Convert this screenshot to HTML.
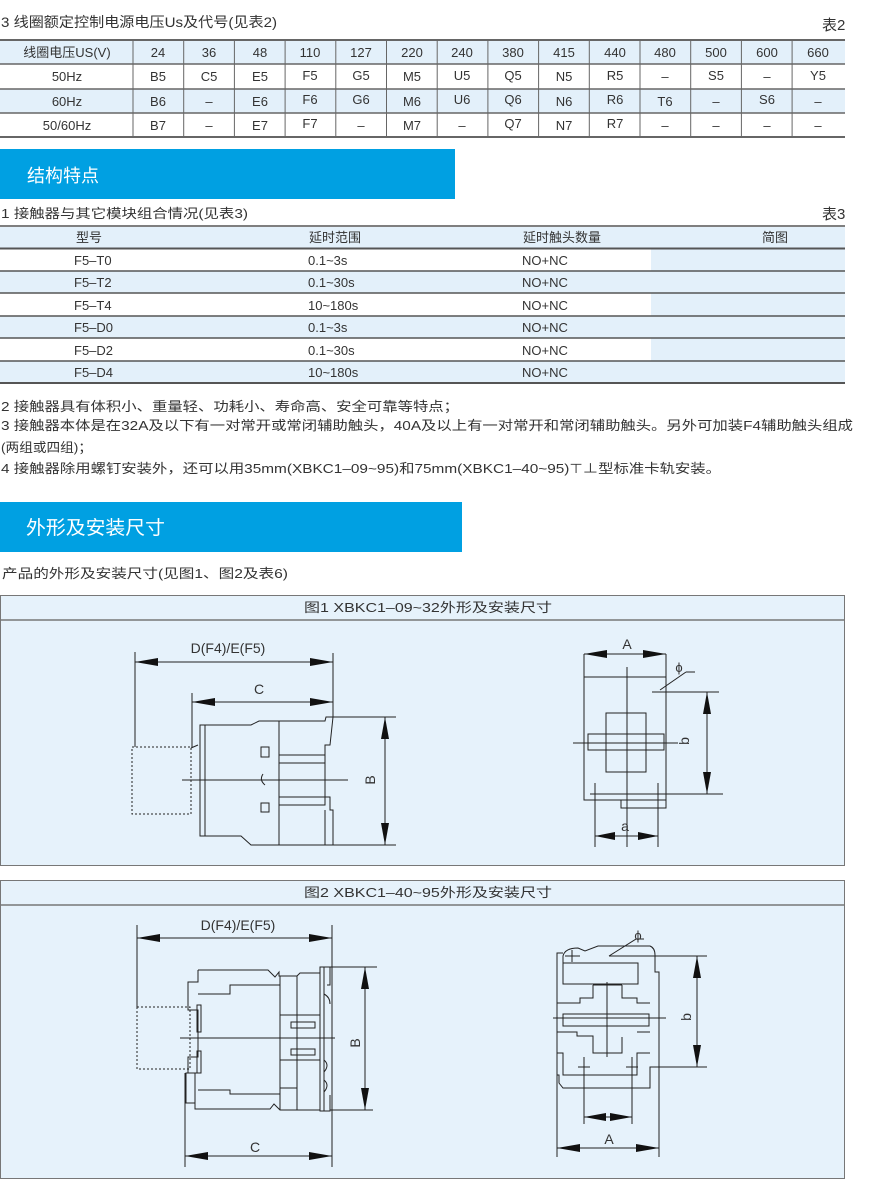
<!DOCTYPE html>
<html><head><meta charset="utf-8"><style>
html,body{margin:0;padding:0;background:#fff;}
svg{display:block;}
text{font-family:"Liberation Sans","Noto Sans CJK SC",sans-serif;fill:#333;}
</style></head><body>
<svg width="882" height="1180" viewBox="0 0 882 1180" xmlns="http://www.w3.org/2000/svg">
<!-- Title line -->
<text x="1" y="27" font-size="14" textLength="276" lengthAdjust="spacingAndGlyphs">3 线圈额定控制电源电压Us及代号(见表2)</text>
<text x="822" y="30" font-size="15">表2</text>

<!-- Table 2 -->
<rect x="0" y="40" width="845" height="24" fill="#e3f0fa"/>
<rect x="0" y="89" width="845" height="24" fill="#e3f0fa"/>
<g stroke="#666" stroke-width="1">
<line x1="0" y1="40" x2="845" y2="40" stroke-width="2"/>
<line x1="0" y1="64" x2="845" y2="64" stroke-width="1.5"/>
<line x1="0" y1="89" x2="845" y2="89" stroke-width="1.5"/>
<line x1="0" y1="113" x2="845" y2="113" stroke-width="1.5"/>
<line x1="0" y1="137" x2="845" y2="137" stroke-width="2"/>
<line x1="133" y1="40" x2="133" y2="137"/><line x1="183.7" y1="40" x2="183.7" y2="137"/><line x1="234.4" y1="40" x2="234.4" y2="137"/><line x1="285.1" y1="40" x2="285.1" y2="137"/><line x1="335.8" y1="40" x2="335.8" y2="137"/><line x1="386.5" y1="40" x2="386.5" y2="137"/><line x1="437.2" y1="40" x2="437.2" y2="137"/><line x1="487.9" y1="40" x2="487.9" y2="137"/><line x1="538.6" y1="40" x2="538.6" y2="137"/><line x1="589.3" y1="40" x2="589.3" y2="137"/><line x1="640" y1="40" x2="640" y2="137"/><line x1="690.7" y1="40" x2="690.7" y2="137"/><line x1="741.4" y1="40" x2="741.4" y2="137"/><line x1="792.1" y1="40" x2="792.1" y2="137"/>
</g>
<g font-size="13" text-anchor="middle">
<text x="67" y="57">线圈电压US(V)</text><text x="67" y="81">50Hz</text><text x="67" y="106">60Hz</text><text x="67" y="130">50/60Hz</text>
<text x="158" y="57">24</text><text x="209" y="57">36</text><text x="260" y="57">48</text><text x="310" y="57">110</text><text x="361" y="57">127</text><text x="412" y="57">220</text><text x="462" y="57">240</text><text x="513" y="57">380</text><text x="564" y="57">415</text><text x="615" y="57">440</text><text x="665" y="57">480</text><text x="716" y="57">500</text><text x="767" y="57">600</text><text x="818" y="57">660</text>
<text x="158" y="81">B5</text><text x="209" y="81">C5</text><text x="260" y="81">E5</text><text x="310" y="80">F5</text><text x="361" y="80">G5</text><text x="412" y="81">M5</text><text x="462" y="80">U5</text><text x="513" y="80">Q5</text><text x="564" y="81">N5</text><text x="615" y="80">R5</text><text x="665" y="81">–</text><text x="716" y="80">S5</text><text x="767" y="81">–</text><text x="818" y="80">Y5</text>
<text x="158" y="106">B6</text><text x="209" y="106">–</text><text x="260" y="106">E6</text><text x="310" y="104">F6</text><text x="361" y="104">G6</text><text x="412" y="106">M6</text><text x="462" y="104">U6</text><text x="513" y="104">Q6</text><text x="564" y="106">N6</text><text x="615" y="104">R6</text><text x="665" y="106">T6</text><text x="716" y="106">–</text><text x="767" y="104">S6</text><text x="818" y="106">–</text>
<text x="158" y="130">B7</text><text x="209" y="130">–</text><text x="260" y="130">E7</text><text x="310" y="128">F7</text><text x="361" y="130">–</text><text x="412" y="130">M7</text><text x="462" y="130">–</text><text x="513" y="128">Q7</text><text x="564" y="130">N7</text><text x="615" y="128">R7</text><text x="665" y="130">–</text><text x="716" y="130">–</text><text x="767" y="130">–</text><text x="818" y="130">–</text>
</g>

<!-- Bar 1 -->
<rect x="0" y="149" width="455" height="50" fill="#00a0e2"/>
<text x="27" y="182" font-size="18" fill="#fff" style="fill:#fff">结构特点</text>

<!-- Table 3 -->
<text x="1" y="218" font-size="13" textLength="247" lengthAdjust="spacingAndGlyphs">1 接触器与其它模块组合情况(见表3)</text>
<text x="822" y="219" font-size="15">表3</text>
<rect x="0" y="227" width="845" height="21" fill="#e3f0fa"/>
<rect x="0" y="271" width="845" height="22" fill="#e3f0fa"/>
<rect x="0" y="316" width="845" height="22" fill="#e3f0fa"/>
<rect x="0" y="361" width="845" height="22" fill="#e3f0fa"/>
<rect x="651" y="248" width="194" height="135" fill="#e3f0fa"/>
<g stroke="#555">
<line x1="0" y1="226" x2="845" y2="226" stroke-width="1.5"/>
<line x1="0" y1="248.5" x2="845" y2="248.5" stroke-width="2"/>
<line x1="0" y1="271" x2="845" y2="271" stroke-width="1.5"/>
<line x1="0" y1="293" x2="845" y2="293" stroke-width="1.5"/>
<line x1="0" y1="316" x2="845" y2="316" stroke-width="1.5"/>
<line x1="0" y1="338" x2="845" y2="338" stroke-width="1.5"/>
<line x1="0" y1="361" x2="845" y2="361" stroke-width="1.5"/>
<line x1="0" y1="383" x2="845" y2="383" stroke-width="2"/>
</g>
<g font-size="13">
<text x="76" y="242">型号</text><text x="309" y="242">延时范围</text><text x="523" y="242">延时触头数量</text><text x="762" y="242">简图</text>
<text x="74" y="265">F5–T0</text><text x="308" y="265">0.1~3s</text><text x="522" y="265">NO+NC</text>
<text x="74" y="287">F5–T2</text><text x="308" y="287">0.1~30s</text><text x="522" y="287">NO+NC</text>
<text x="74" y="310">F5–T4</text><text x="308" y="310">10~180s</text><text x="522" y="310">NO+NC</text>
<text x="74" y="332">F5–D0</text><text x="308" y="332">0.1~3s</text><text x="522" y="332">NO+NC</text>
<text x="74" y="355">F5–D2</text><text x="308" y="355">0.1~30s</text><text x="522" y="355">NO+NC</text>
<text x="74" y="377">F5–D4</text><text x="308" y="377">10~180s</text><text x="522" y="377">NO+NC</text>
</g>

<!-- paragraphs -->
<g font-size="13">
<text x="1" y="411" textLength="458" lengthAdjust="spacingAndGlyphs">2 接触器具有体积小、重量轻、功耗小、寿命高、安全可靠等特点；</text>
<text x="1" y="430" textLength="852" lengthAdjust="spacingAndGlyphs">3 接触器本体是在32A及以下有一对常开或常闭辅助触头，40A及以上有一对常开和常闭辅助触头。另外可加装F4辅助触头组成</text>
<text x="1" y="452" textLength="91" lengthAdjust="spacingAndGlyphs">(两组或四组)；</text>
<text x="1" y="473" textLength="720" lengthAdjust="spacingAndGlyphs">4 接触器除用螺钉安装外，还可以用35mm(XBKC1–09~95)和75mm(XBKC1–40~95)⊤⊥型标准卡轨安装。</text>
</g>

<!-- Bar 2 -->
<rect x="0" y="502" width="462" height="50" fill="#00a0e2"/>
<text x="26" y="534" font-size="19" style="fill:#fff" textLength="139" lengthAdjust="spacingAndGlyphs">外形及安装尺寸</text>
<text x="2" y="578" font-size="13" textLength="286" lengthAdjust="spacingAndGlyphs">产品的外形及安装尺寸(见图1、图2及表6)</text>

<!-- Figure 1 box -->
<rect x="0.5" y="595.5" width="844" height="270" fill="#e6f2fb" stroke="#777"/>
<line x1="0" y1="620" x2="845" y2="620" stroke="#777" stroke-width="1.5"/>
<text x="428" y="612" font-size="13" text-anchor="middle" textLength="248" lengthAdjust="spacingAndGlyphs">图1 XBKC1–09~32外形及安装尺寸</text>

<g stroke="#222" stroke-width="1" fill="none">
<!-- left drawing fig1 -->
<line x1="135" y1="652" x2="135" y2="747"/>
<line x1="333" y1="653" x2="333" y2="717"/>
<line x1="192" y1="693" x2="192" y2="747"/>
<line x1="135" y1="662" x2="333" y2="662"/>
<line x1="192" y1="702" x2="333" y2="702"/>
<rect x="132" y="747" width="59" height="67" stroke-dasharray="2,2"/>
<path d="M200,725 H205 V836 H200 Z"/>
<path d="M205,725 H251 L259,721 H325 L326,717 H333 L330,745 H325 V797 L330,797 V810 L333,810 V845 H251 L241,836 H205"/>
<line x1="279" y1="721" x2="279" y2="845"/>
<line x1="325" y1="810" x2="325" y2="845"/>
<line x1="191" y1="748" x2="198" y2="745"/>
<rect x="279" y="755" width="46" height="8"/>
<rect x="279" y="797" width="46" height="8"/>
<rect x="261" y="747" width="8" height="10"/>
<rect x="261" y="803" width="8" height="9"/>
<path d="M263,774 q-4,6 2,11"/>
<line x1="182" y1="780" x2="348" y2="780"/>
<line x1="333" y1="717" x2="396" y2="717"/>
<line x1="333" y1="845" x2="396" y2="845"/>
<line x1="385" y1="717" x2="385" y2="845"/>
<!-- right fig1 -->
<rect x="584" y="677" width="82" height="123"/>
<line x1="584" y1="654" x2="584" y2="677"/>
<line x1="666" y1="654" x2="666" y2="690"/>
<line x1="584" y1="654" x2="666" y2="654"/>
<line x1="627" y1="667" x2="627" y2="847"/>
<rect x="606" y="713" width="40" height="59"/>
<rect x="588" y="734" width="76" height="16"/>
<line x1="573" y1="743" x2="678" y2="743"/>
<rect x="621" y="800" width="45" height="8"/>
<line x1="652" y1="692" x2="719" y2="692"/>
<line x1="590" y1="794" x2="723" y2="794"/>
<line x1="707" y1="692" x2="707" y2="794"/>
<line x1="695" y1="672" x2="686" y2="672"/>
<line x1="686" y1="672" x2="660" y2="690"/>
<line x1="595" y1="783" x2="595" y2="847"/>
<line x1="658" y1="783" x2="658" y2="847"/>
<line x1="595" y1="836" x2="658" y2="836"/>
</g>
<g fill="#111">
<polygon points="135,662 158,658 158,666"/><polygon points="333,662 310,658 310,666"/>
<polygon points="192,702 215,698 215,706"/><polygon points="333,702 310,698 310,706"/>
<polygon points="385,717 381,739 389,739"/><polygon points="385,845 381,823 389,823"/>
<polygon points="584,654 607,650 607,658"/><polygon points="666,654 643,650 643,658"/>
<polygon points="707,692 703,714 711,714"/><polygon points="707,794 703,772 711,772"/>
<polygon points="595,836 615,832 615,840"/><polygon points="658,836 638,832 638,840"/>
</g>
<g font-size="14" text-anchor="middle">
<text x="228" y="653">D(F4)/E(F5)</text>
<text x="259" y="694">C</text>
<text x="627" y="649">A</text>
<text x="679" y="672" font-size="13">ϕ</text>
<text x="625" y="831">a</text>
<text transform="translate(375,780) rotate(-90)">B</text>
<text transform="translate(689,741) rotate(-90)">b</text>
</g>

<!-- Figure 2 box -->
<rect x="0.5" y="880.5" width="844" height="298" fill="#e6f2fb" stroke="#777"/>
<line x1="0" y1="905" x2="845" y2="905" stroke="#777" stroke-width="1.5"/>
<text x="428" y="897" font-size="13" text-anchor="middle" textLength="248" lengthAdjust="spacingAndGlyphs">图2 XBKC1–40~95外形及安装尺寸</text>

<g stroke="#222" stroke-width="1" fill="none">
<line x1="137" y1="925" x2="137" y2="1007"/>
<line x1="332" y1="925" x2="332" y2="1167"/>
<line x1="185" y1="1073" x2="185" y2="1167"/>
<line x1="137" y1="938" x2="332" y2="938"/>
<line x1="185" y1="1156" x2="332" y2="1156"/>
<rect x="137" y="1007" width="53" height="62" stroke-dasharray="2,2"/>
<path d="M198,970 H268 L275,977 L279,972 V976 H297 L300,973 H320 V1110 H297 H280 L274,1104 L270,1109 H195 V1073 H186 V1103 H195"/>
<path d="M198,970 V982 H188 V1010 H198 V1057 H188 V1073 H198"/>
<path d="M198,994 H230 V985 H280"/>
<path d="M198,1090 H230 V1094 H280"/>
<rect x="197" y="1005" width="4" height="27"/>
<rect x="197" y="1051" width="4" height="22"/>
<line x1="280" y1="976" x2="280" y2="1110"/>
<line x1="297" y1="976" x2="297" y2="1110"/>
<line x1="280" y1="1015" x2="320" y2="1015"/>
<line x1="280" y1="1060" x2="320" y2="1060"/>
<line x1="280" y1="1088" x2="297" y2="1088"/>
<rect x="291" y="1022" width="24" height="6"/>
<rect x="291" y="1049" width="24" height="6"/>
<rect x="320" y="967" width="4" height="144"/>
<path d="M324,967 H330 V985 H327"/>
<path d="M324,1111 H330 V1095"/>
<path d="M324,994 q6,3 6,10 M324,1060 q6,5 0,12 M324,1080 q6,5 0,12"/>
<line x1="180" y1="1038" x2="335" y2="1038"/>
<line x1="330" y1="967" x2="377" y2="967"/>
<line x1="330" y1="1110" x2="373" y2="1110"/>
<line x1="365" y1="967" x2="365" y2="1110"/>
<!-- right fig2 -->
<path d="M563,963 V956 Q565,948 578,948 L585,951 L598,946 H650 Q655,948 655,955 V972 H659 V1067 H650 V1088 H563 L559,1083 V1075 H557 V953 H563"/>
<rect x="563" y="963" width="75" height="21"/>
<rect x="563" y="1014" width="86" height="12"/>
<path d="M593,985 V998 H580 V1003 H557 M622,985 V998 H637 V1003 H650 M593,985 H622"/>
<path d="M557,1032 H577 V1036 H593 V1053 H622 V1037 M637,1032 H650 M557,1053 H563 V1075 H637 V1053 H650"/>
<line x1="607" y1="982" x2="607" y2="1057"/>
<line x1="553" y1="1018" x2="666" y2="1018"/>
<line x1="572" y1="950" x2="572" y2="962"/>
<line x1="565" y1="956" x2="580" y2="956"/>
<line x1="609" y1="956" x2="707" y2="956"/>
<line x1="650" y1="1067" x2="707" y2="1067"/>
<line x1="697" y1="956" x2="697" y2="1067"/>
<line x1="644" y1="939" x2="636" y2="939"/>
<line x1="636" y1="939" x2="609" y2="956"/>
<line x1="584" y1="1057" x2="584" y2="1124"/>
<line x1="632" y1="1057" x2="632" y2="1124"/>
<line x1="578" y1="1067" x2="590" y2="1067"/>
<line x1="626" y1="1067" x2="638" y2="1067"/>
<line x1="584" y1="1117" x2="632" y2="1117"/>
<line x1="557" y1="1075" x2="557" y2="1157"/>
<line x1="659" y1="1067" x2="659" y2="1157"/>
<line x1="557" y1="1148" x2="659" y2="1148"/>
</g>
<g fill="#111">
<polygon points="137,938 160,934 160,942"/><polygon points="332,938 309,934 309,942"/>
<polygon points="185,1156 208,1152 208,1160"/><polygon points="332,1156 309,1152 309,1160"/>
<polygon points="365,967 361,989 369,989"/><polygon points="365,1110 361,1088 369,1088"/>
<polygon points="697,956 693,978 701,978"/><polygon points="697,1067 693,1045 701,1045"/>
<polygon points="584,1117 606,1113 606,1121"/><polygon points="632,1117 610,1113 610,1121"/>
<polygon points="557,1148 580,1144 580,1152"/><polygon points="659,1148 636,1144 636,1152"/>
</g>
<g font-size="14" text-anchor="middle">
<text x="238" y="930">D(F4)/E(F5)</text>
<text x="255" y="1152">C</text>
<text x="609" y="1144">A</text>
<text x="638" y="940" font-size="13">ϕ</text>
<text transform="translate(360,1043) rotate(-90)">B</text>
<text transform="translate(691,1017) rotate(-90)">b</text>
</g>
</svg>
</body></html>
